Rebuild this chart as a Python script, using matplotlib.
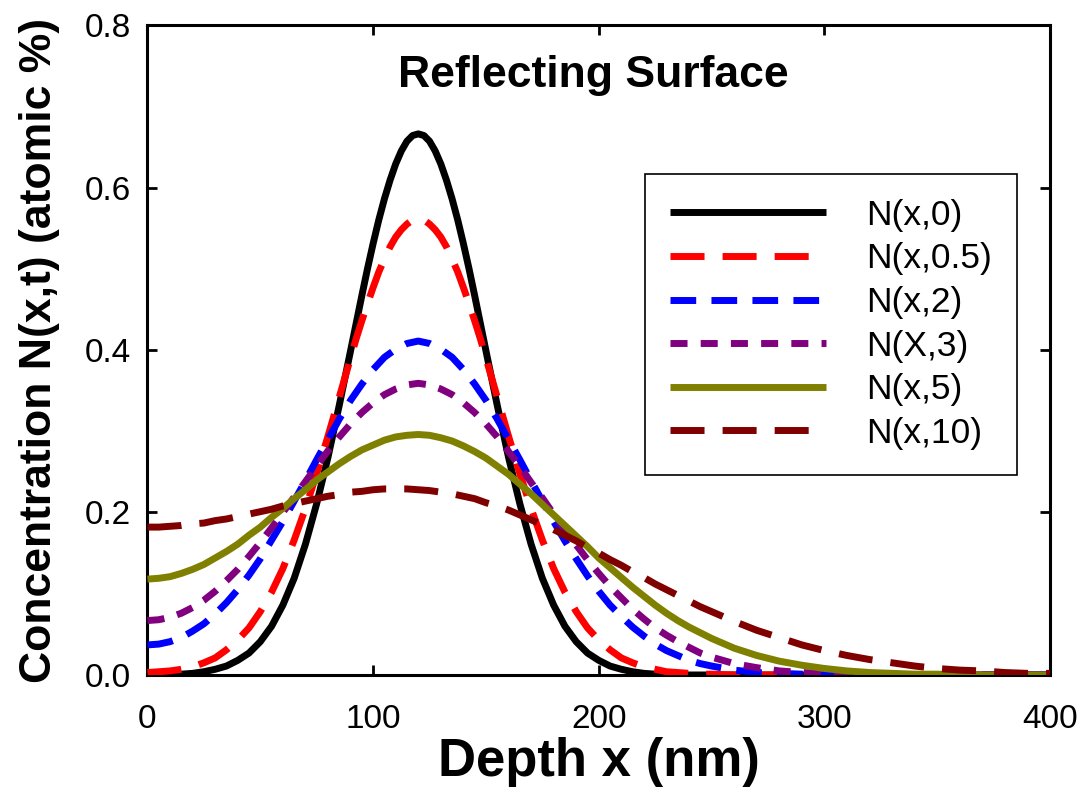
import matplotlib
matplotlib.use("Agg")
import matplotlib.pyplot as plt
import numpy as np

plt.rcParams['font.family'] = ['Liberation Sans', 'DejaVu Sans']

# ---- data ----
# depth positions (nm); denser sampling around the narrow peaks
x_narrow = np.concatenate([np.arange(0, 91, 5), np.arange(92.5, 148, 2.5),
                           np.arange(150, 246, 5), np.arange(250, 401, 10)])
x_broad = np.concatenate([np.arange(0, 246, 5), np.arange(250, 401, 10)])

n_t0 = [0.000, 0.000, 0.001, 0.001, 0.002, 0.004, 0.007, 0.011, 0.018, 0.027,
        0.041, 0.060, 0.086, 0.119, 0.161, 0.211, 0.268, 0.332, 0.399,
        0.433, 0.467, 0.500, 0.531, 0.560, 0.586, 0.609, 0.629, 0.645, 0.657,
        0.664, 0.666, 0.664, 0.657, 0.645, 0.629, 0.609, 0.586, 0.560, 0.531,
        0.500, 0.467, 0.433,
        0.399, 0.332, 0.268, 0.211, 0.161, 0.119, 0.086, 0.060, 0.041, 0.027,
        0.018, 0.011, 0.007, 0.004, 0.002, 0.001, 0.001, 0.000, 0.000, 0.000,
        0.000, 0.000, 0.000, 0.000, 0.000, 0.000, 0.000, 0.000, 0.000, 0.000,
        0.000, 0.000, 0.000, 0.000, 0.000, 0.000]

n_t05 = [0.003, 0.004, 0.005, 0.007, 0.010, 0.015, 0.021, 0.031, 0.043, 0.058,
         0.078, 0.102, 0.131, 0.166, 0.205, 0.248, 0.294, 0.342, 0.390,
         0.414, 0.436, 0.457, 0.477, 0.496, 0.512, 0.527, 0.539, 0.548, 0.555,
         0.560, 0.561, 0.560, 0.555, 0.548, 0.539, 0.527, 0.512, 0.496, 0.477,
         0.457, 0.436, 0.414,
         0.390, 0.342, 0.294, 0.248, 0.205, 0.166, 0.131, 0.102, 0.078, 0.058,
         0.043, 0.031, 0.021, 0.015, 0.010, 0.007, 0.004, 0.003, 0.002, 0.001,
         0.001, 0.000, 0.000, 0.000, 0.000, 0.000, 0.000, 0.000, 0.000, 0.000,
         0.000, 0.000, 0.000, 0.000, 0.000, 0.000]

n_t2 = [0.037, 0.038, 0.041, 0.046, 0.054, 0.063, 0.075, 0.089, 0.105, 0.123,
        0.143, 0.166, 0.189, 0.214, 0.239, 0.265, 0.290, 0.315, 0.338, 0.358,
        0.376, 0.391, 0.401, 0.408, 0.411, 0.408, 0.401, 0.391, 0.376, 0.358,
        0.338, 0.315, 0.290, 0.265, 0.239, 0.214, 0.189, 0.165, 0.143, 0.122,
        0.103, 0.086, 0.072, 0.059, 0.048, 0.038, 0.030, 0.024, 0.018, 0.014,
        0.011, 0.006, 0.003, 0.002, 0.001, 0.000, 0.000, 0.000, 0.000, 0.000,
        0.000, 0.000, 0.000, 0.000, 0.000, 0.000]

n_t3 = [0.067, 0.068, 0.071, 0.076, 0.083, 0.092, 0.103, 0.116, 0.130, 0.146,
        0.163, 0.181, 0.200, 0.219, 0.238, 0.257, 0.276, 0.293, 0.309, 0.323,
        0.335, 0.345, 0.352, 0.357, 0.359, 0.357, 0.352, 0.345, 0.335, 0.323,
        0.309, 0.293, 0.275, 0.257, 0.237, 0.218, 0.198, 0.179, 0.160, 0.142,
        0.125, 0.109, 0.095, 0.081, 0.069, 0.058, 0.049, 0.041, 0.034, 0.027,
        0.022, 0.014, 0.009, 0.005, 0.003, 0.002, 0.001, 0.001, 0.000, 0.000,
        0.000, 0.000, 0.000, 0.000, 0.000, 0.000]

n_t5 = [0.118, 0.119, 0.121, 0.125, 0.130, 0.136, 0.144, 0.152, 0.161, 0.172,
        0.182, 0.194, 0.205, 0.217, 0.228, 0.240, 0.250, 0.260, 0.269, 0.277,
        0.283, 0.289, 0.293, 0.295, 0.296, 0.295, 0.292, 0.288, 0.282, 0.275,
        0.267, 0.257, 0.247, 0.235, 0.223, 0.210, 0.197, 0.184, 0.171, 0.158,
        0.144, 0.132, 0.120, 0.108, 0.097, 0.086, 0.076, 0.067, 0.059, 0.052,
        0.045, 0.033, 0.024, 0.017, 0.012, 0.008, 0.005, 0.003, 0.002, 0.001,
        0.001, 0.000, 0.000, 0.000, 0.000, 0.000]

n_t10 = [0.182, 0.182, 0.183, 0.184, 0.186, 0.187, 0.190, 0.192, 0.195, 0.198,
         0.201, 0.204, 0.208, 0.211, 0.214, 0.217, 0.220, 0.222, 0.225, 0.226,
         0.228, 0.229, 0.229, 0.229, 0.228, 0.227, 0.225, 0.223, 0.220, 0.217,
         0.212, 0.208, 0.203, 0.197, 0.191, 0.185, 0.179, 0.172, 0.165, 0.157,
         0.150, 0.142, 0.135, 0.127, 0.120, 0.112, 0.105, 0.098, 0.091, 0.084,
         0.078, 0.066, 0.055, 0.046, 0.037, 0.030, 0.024, 0.019, 0.015, 0.011,
         0.008, 0.006, 0.005, 0.003, 0.002, 0.002]

labels = ["N(x,0)", "N(x,0.5)", "N(x,2)", "N(X,3)", "N(x,5)", "N(x,10)"]
x_ticks = [0, 100, 200, 300, 400]
y_ticks = [0.0, 0.2, 0.4, 0.6, 0.8]

# ---- figure ----
fig = plt.figure(figsize=(10.86, 8.07), dpi=100)
ax = fig.add_axes([0.1358, 0.1636, 0.8311, 0.8054])

lw = 5
series = [
    (x_narrow, n_t0, dict(color="black", linestyle="-")),
    (x_narrow, n_t05, dict(color="#FF0000", dashes=(4.9, 2.6))),
    (x_broad, n_t2, dict(color="#0000FF", dashes=(3.7, 2.2))),
    (x_broad, n_t3, dict(color="#800080", dashes=(2.45, 1.9))),
    (x_broad, n_t5, dict(color="#808000", linestyle="-")),
    (x_broad, n_t10, dict(color="#800000", dashes=(4.9, 2.6))),
]
for (xs, ys, style), lab in zip(series, labels):
    ax.plot(xs, ys, lw=lw, label=lab, solid_capstyle="butt",
            solid_joinstyle="round", zorder=3, **style)

ax.set_xlim(0, 400)
ax.set_ylim(0, 0.8)
ax.set_xticks(x_ticks)
ax.set_yticks(y_ticks)
ax.set_yticklabels([f"{v:.1f}" for v in y_ticks])

for sp in ax.spines.values():
    sp.set_linewidth(2.2)
ax.tick_params(direction="in", length=7, width=2, top=True, right=True,
               labelsize=24)
ax.tick_params(axis="y", pad=12)
ax.tick_params(axis="x", pad=21)

ax.set_xlabel("Depth x (nm)", fontsize=38, fontweight="bold")
ax.set_ylabel("Concentration N(x,t) (atomic %)", fontsize=32, fontweight="bold")
ax.xaxis.set_label_coords(0.5, -0.095)
ax.yaxis.set_label_coords(-0.097, 0.5)

ax.text(0.494, 0.923, "Reflecting Surface", transform=ax.transAxes,
        ha="center", va="center", fontsize=32, fontweight="bold")

leg = ax.legend(loc="upper right", bbox_to_anchor=(0.9635, 0.771),
                borderaxespad=0, fontsize=25.5, handlelength=4.43,
                handletextpad=1.13, labelspacing=0.3, borderpad=0.7,
                fancybox=False, framealpha=1, edgecolor="black")
leg.get_frame().set_linewidth(1.2)

fig.savefig("out.png", dpi=100)
